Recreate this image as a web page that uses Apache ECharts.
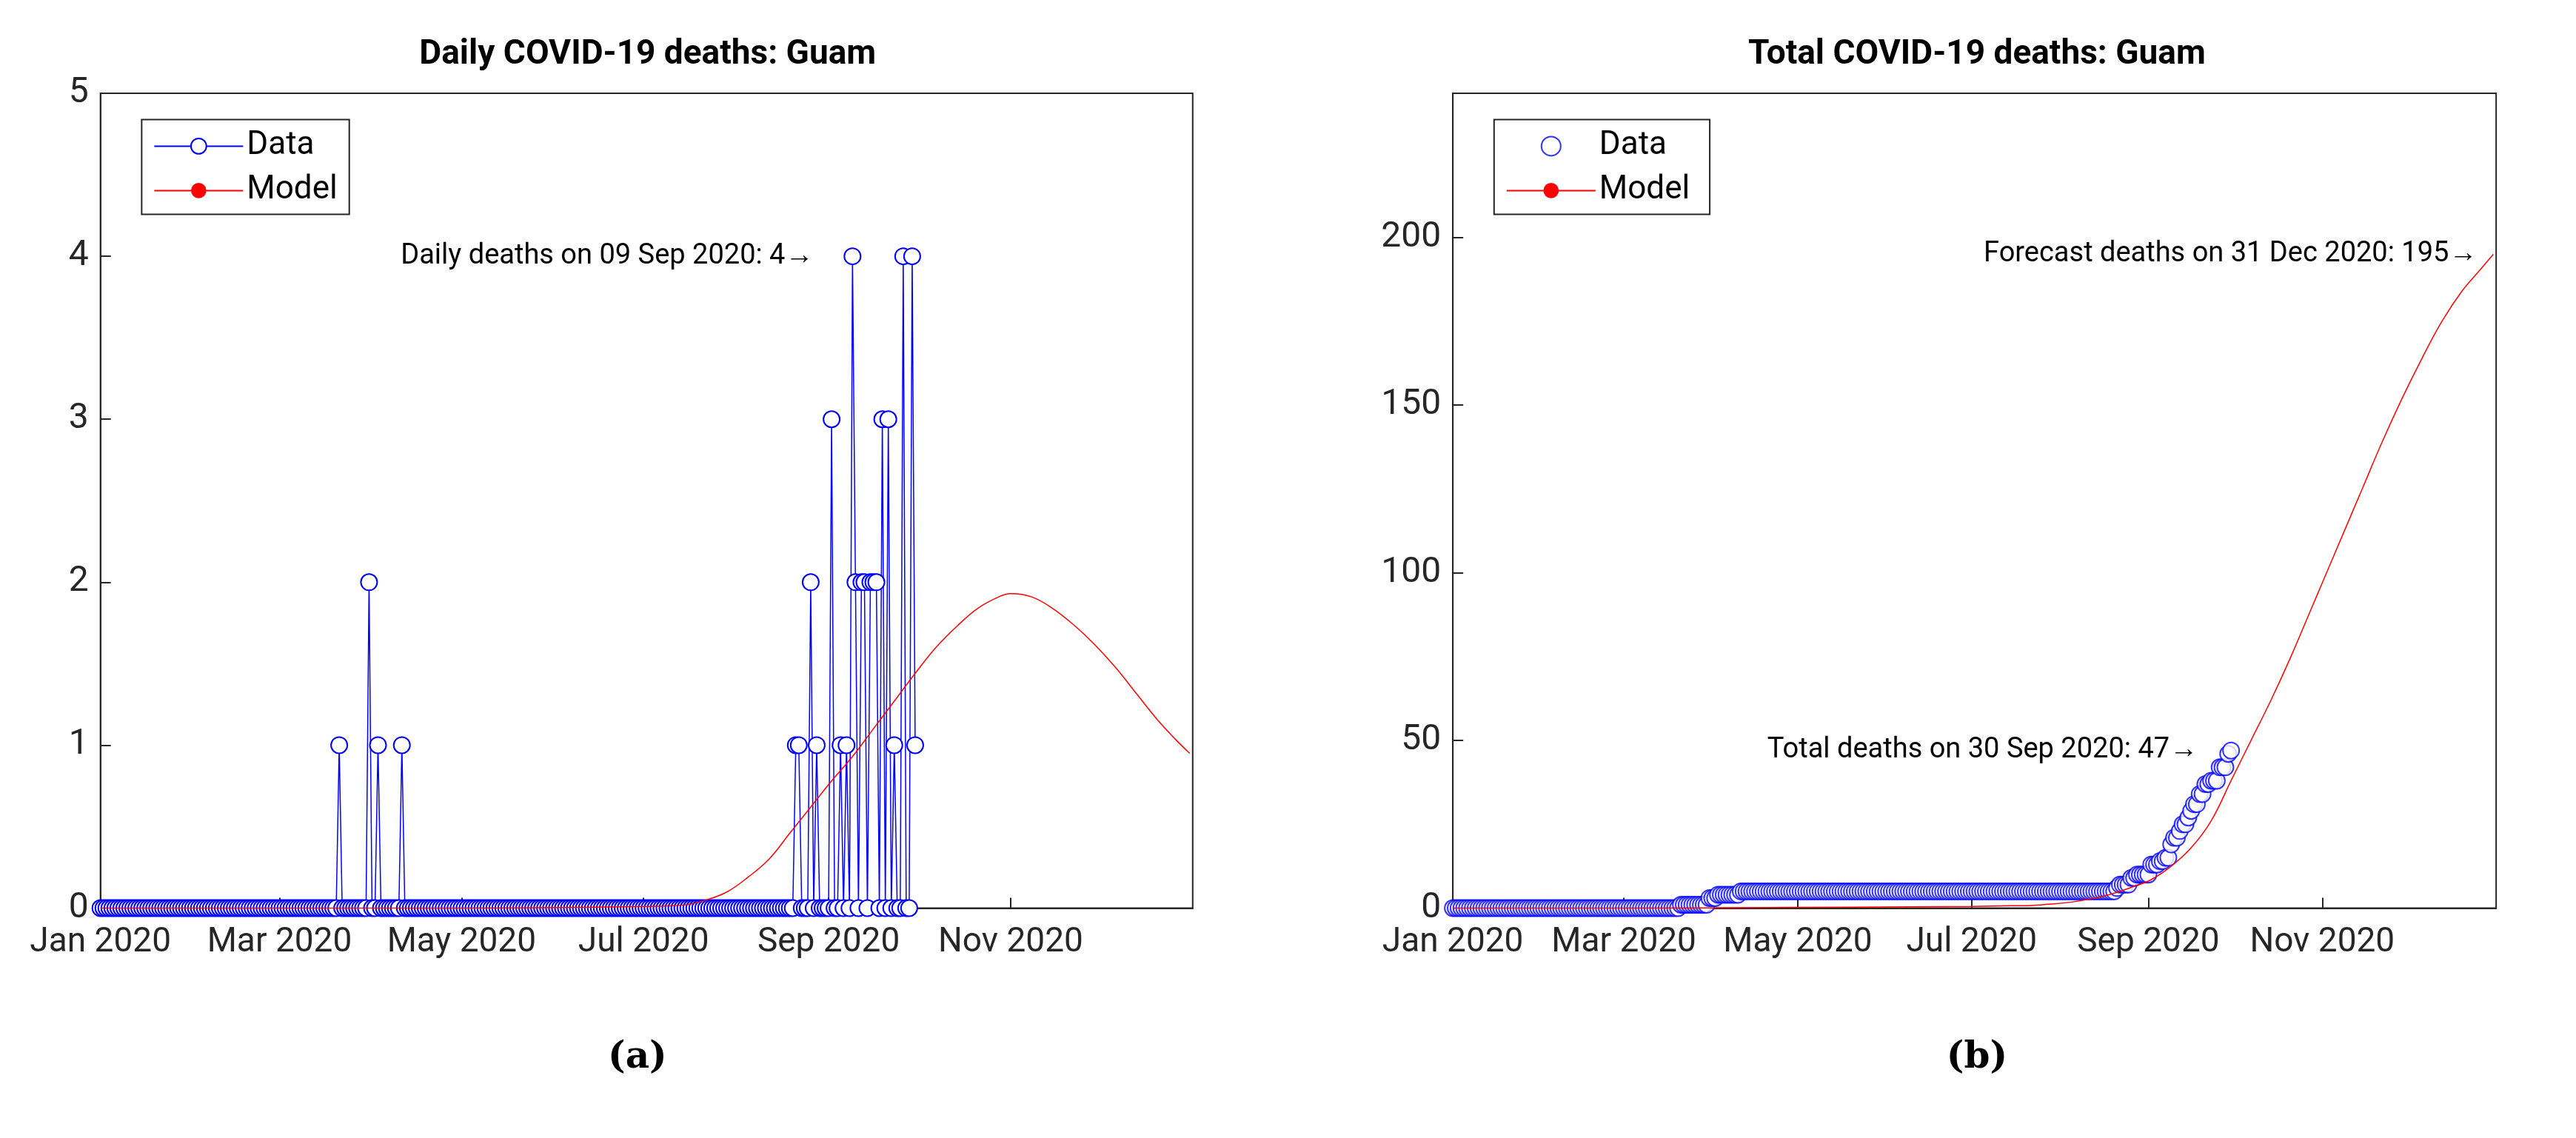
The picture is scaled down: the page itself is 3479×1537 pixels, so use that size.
<!DOCTYPE html>
<html>
<head>
<meta charset="utf-8">
<script src="https://cdn.jsdelivr.net/npm/echarts@6/dist/echarts.min.js"></script>
<style>
  html, body { margin: 0; padding: 0; background: #fff; }
  #chart { width: 3479px; height: 1537px; }
</style>
</head>
<body>
<div id="chart"></div>
<script>
// days are counted from 01 Jan 2020 (day 0)
var tickDays = [0, 60, 121, 182, 244, 305];
var tickLabels = ['Jan 2020', 'Mar 2020', 'May 2020', 'Jul 2020', 'Sep 2020', 'Nov 2020'];

// reported data runs up to 30 Sep 2020 (day 273); every other day is 0
var lastDataDay = 273;
var spikeDays   = [80, 90, 93, 101, 233, 234, 238, 240, 245, 248, 250, 252, 253, 255, 256, 258, 259, 260, 262, 264, 266, 269, 272, 273];
var spikeValues = [1,  2,  1,  1,   1,   1,   2,   1,   3,   1,   1,   4,   2,   2,   2,   2,   2,   2,   3,   3,   1,   4,   4,   1];

// model curves
var modelDays  = [0, 60, 120, 160, 182, 196, 203, 210, 217, 224, 231, 238, 245, 252, 259, 266, 273, 280, 287, 294, 301, 305, 312, 319, 326, 333, 340, 347, 354, 360, 365];
var dailyModel = [0, 0, 0, 0.005, 0.01, 0.02, 0.05, 0.1, 0.19, 0.3, 0.46, 0.62, 0.78, 0.93, 1.1, 1.27, 1.44, 1.6, 1.73, 1.84, 1.91, 1.93, 1.91, 1.84, 1.74, 1.62, 1.48, 1.32, 1.16, 1.04, 0.95];
var totalModel = [0, 0, 0.2, 0.4, 0.5, 0.7, 0.8, 1.2, 1.8, 2.8, 4.2, 6.2, 8.5, 12.5, 18, 26, 38, 50, 62, 75, 89, 97, 111, 125, 139, 152, 164, 175, 184, 190, 195];

var daily = [], total = [], run = 0;
for (var d = 0; d <= lastDataDay; d++) {
  var k = spikeDays.indexOf(d);
  var v = k >= 0 ? spikeValues[k] : 0;
  run += v;
  daily.push([d, v]);
  total.push([d, run]);
}
var dailyModelPts = modelDays.map(function (d, i) { return [d, dailyModel[i]]; });
var totalModelPts = modelDays.map(function (d, i) { return [d, totalModel[i]]; });

var font = 'Roboto, "Liberation Sans", Arial, sans-serif';
var axisColor = '#262626';
var blue = '#0000ff', red = '#ff0000';

function xAxis(gi) {
  return {
    type: 'value', gridIndex: gi, min: 0, max: 366,
    splitLine: { show: false },
    axisLine: { lineStyle: { color: axisColor, width: 2 } },
    axisTick: { inside: true, length: 14, lineStyle: { color: axisColor, width: 2 }, customValues: tickDays },
    axisLabel: {
      customValues: tickDays, color: axisColor, fontSize: 46, fontFamily: font, margin: 24,
      formatter: function (v) { var i = tickDays.indexOf(v); return i >= 0 ? tickLabels[i] : ''; }
    }
  };
}
function yAxis(gi, max, step) {
  return {
    type: 'value', gridIndex: gi, min: 0, max: max, interval: step,
    splitLine: { show: false },
    axisLine: { show: true, lineStyle: { color: axisColor, width: 2 } },
    axisTick: { inside: true, length: 14, lineStyle: { color: axisColor, width: 2 } },
    axisLabel: { color: axisColor, fontSize: 48, fontFamily: font, margin: 16, showMaxLabel: max % step === 0 }
  };
}
function legend(left, items) {
  return {
    left: left, top: '10.5%', orient: 'vertical', data: items,
    backgroundColor: '#fff', borderColor: axisColor, borderWidth: 2, padding: [14, 16, 10, 16],
    itemWidth: 120, itemHeight: 26, itemGap: 16,
    textStyle: { fontSize: 44, fontFamily: font, color: '#000' }
  };
}
function note(text) {
  return { show: true, formatter: text, position: 'left', distance: 6,
           fontSize: 38, fontFamily: font, color: '#000' };
}

var option = {
  animation: false,
  backgroundColor: '#fff',
  title: [
    { text: 'Daily COVID-19 deaths: Guam', left: '25%', textAlign: 'center', top: '3%',
      textStyle: { fontSize: 46, fontWeight: 'bold', fontFamily: font, color: '#000' } },
    { text: 'Total COVID-19 deaths: Guam', left: '76.6%', textAlign: 'center', top: '3%',
      textStyle: { fontSize: 46, fontWeight: 'bold', fontFamily: font, color: '#000' } },
    { text: '(a)', left: '24.6%', textAlign: 'center', top: '91%',
      textStyle: { fontSize: 50, fontWeight: 'bold', fontFamily: '"DejaVu Serif", "Liberation Serif", serif', color: '#000' } },
    { text: '(b)', left: '76.6%', textAlign: 'center', top: '91%',
      textStyle: { fontSize: 50, fontWeight: 'bold', fontFamily: '"DejaVu Serif", "Liberation Serif", serif', color: '#000' } }
  ],
  legend: [
    legend('5.5%', ['Data', 'Model']),
    legend('58%', ['Data ', 'Model '])
  ],
  grid: [
    { left: '3.9%', right: '53.7%', top: '8.2%', bottom: '20.2%', show: true, borderColor: axisColor, borderWidth: 2 },
    { left: '56.4%', right: '3.1%', top: '8.2%', bottom: '20.2%', show: true, borderColor: axisColor, borderWidth: 2 }
  ],
  xAxis: [xAxis(0), xAxis(1)],
  yAxis: [yAxis(0, 5, 1), yAxis(1, 243, 50)],
  series: [
    {
      name: 'Data', type: 'line', xAxisIndex: 0, yAxisIndex: 0, data: daily,
      symbol: 'emptyCircle', symbolSize: 22, showSymbol: true, showAllSymbol: true,
      color: blue,
      lineStyle: { color: blue, width: 1.5 },
      itemStyle: { color: blue, borderColor: blue, borderWidth: 1.5 },
      markPoint: { symbol: 'circle', symbolSize: 1, itemStyle: { color: 'rgba(0,0,0,0)' },
        data: [{ coord: [240.5, 4], label: note('Daily deaths on 09 Sep 2020: 4\u2192') }] },
      z: 3
    },
    {
      name: 'Model', type: 'line', xAxisIndex: 0, yAxisIndex: 0, data: dailyModelPts,
      smooth: 0.4, symbol: 'none', color: red,
      itemStyle: { color: red }, lineStyle: { color: red, width: 1.5 }, z: 4
    },
    {
      name: 'Data ', type: 'scatter', xAxisIndex: 1, yAxisIndex: 1, data: total,
      symbol: 'emptyCircle', symbolSize: 22, color: blue,
      itemStyle: { color: blue, borderColor: blue, borderWidth: 1.5 },
      markPoint: { symbol: 'circle', symbolSize: 1, itemStyle: { color: 'rgba(0,0,0,0)' },
        data: [
          { coord: [263, 47], label: note('Total deaths on 30 Sep 2020: 47\u2192') },
          { coord: [361, 195], label: note('Forecast deaths on 31 Dec 2020: 195\u2192') }
        ] },
      z: 3
    },
    {
      name: 'Model ', type: 'line', xAxisIndex: 1, yAxisIndex: 1, data: totalModelPts,
      smooth: 0.4, symbol: 'none', color: red,
      itemStyle: { color: red }, lineStyle: { color: red, width: 1.5 }, z: 4
    }
  ]
};

var chart = echarts.init(document.getElementById('chart'));
chart.setOption(option);
</script>
</body>
</html>
